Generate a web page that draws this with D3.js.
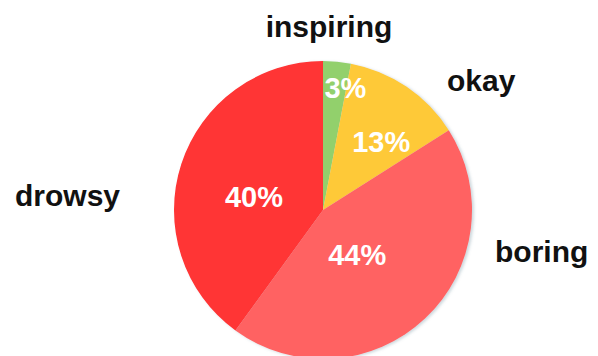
<html>
<head>
<script src="https://cdnjs.cloudflare.com/ajax/libs/d3/7.8.5/d3.min.js"></script>
<style>
  body { margin: 0; background: #fff; }
  text { font-family: "Liberation Sans", Arial, sans-serif; font-weight: bold; }
</style>
</head>
<body>
<svg id="chart"></svg>
<script>
// slices, clockwise from 12 o'clock
var moods = ["inspiring", "okay", "boring", "drowsy"];
var shares = [3, 13, 44, 40];
var sliceColors = ["#92d06c", "#fec938", "#ff6262", "#ff3434"];

var width = 598, height = 356;
var cx = 323, cy = 210, radius = 149;

var svg = d3.select("#chart")
    .attr("width", width)
    .attr("height", height);

// faint shadow on the right rim
var defs = svg.append("defs");
var f = defs.append("filter").attr("id", "shade")
    .attr("x", "-10%").attr("y", "-10%").attr("width", "120%").attr("height", "120%");
f.append("feDropShadow")
    .attr("dx", 2).attr("dy", 1).attr("stdDeviation", 1.5)
    .attr("flood-color", "#6a8a9a").attr("flood-opacity", 0.35);

var pie = d3.pie().sort(null).value(function(d) { return d; });
var arcs = pie(shares);

var arc = d3.arc().innerRadius(0).outerRadius(radius);

var g = svg.append("g").attr("transform", "translate(" + cx + "," + cy + ")");

g.append("g").attr("filter", "url(#shade)")
  .selectAll("path")
  .data(arcs)
  .enter()
  .append("path")
  .attr("d", arc)
  .attr("fill", function(d, i) { return sliceColors[i]; });

// percent labels: centroid at a mid radius, then nudged like the original
var labelArc = d3.arc().innerRadius(radius * 0.6).outerRadius(radius * 0.6);
var nudge = [[14, -33], [8, 5], [-27, -21], [16, 14]];

g.selectAll("text.pct")
  .data(arcs)
  .enter()
  .append("text")
  .attr("class", "pct")
  .attr("x", function(d, i) { return labelArc.centroid(d)[0] + nudge[i][0]; })
  .attr("y", function(d, i) { return labelArc.centroid(d)[1] + nudge[i][1]; })
  .attr("dy", "0.36em")
  .attr("text-anchor", "middle")
  .attr("fill", "#fff")
  .style("font-size", "29px")
  .text(function(d) { return d.data + "%"; });

// category names outside the pie
var namePos = [
  { x: 329, y: 37, anchor: "middle" },
  { x: 447, y: 91, anchor: "start" },
  { x: 495, y: 262, anchor: "start" },
  { x: 15, y: 206, anchor: "start" }
];

svg.selectAll("text.name")
  .data(moods)
  .enter()
  .append("text")
  .attr("class", "name")
  .attr("x", function(d, i) { return namePos[i].x; })
  .attr("y", function(d, i) { return namePos[i].y; })
  .attr("text-anchor", function(d, i) { return namePos[i].anchor; })
  .attr("fill", "#111")
  .style("font-size", "30px")
  .text(function(d) { return d; });
</script>
</body>
</html>
